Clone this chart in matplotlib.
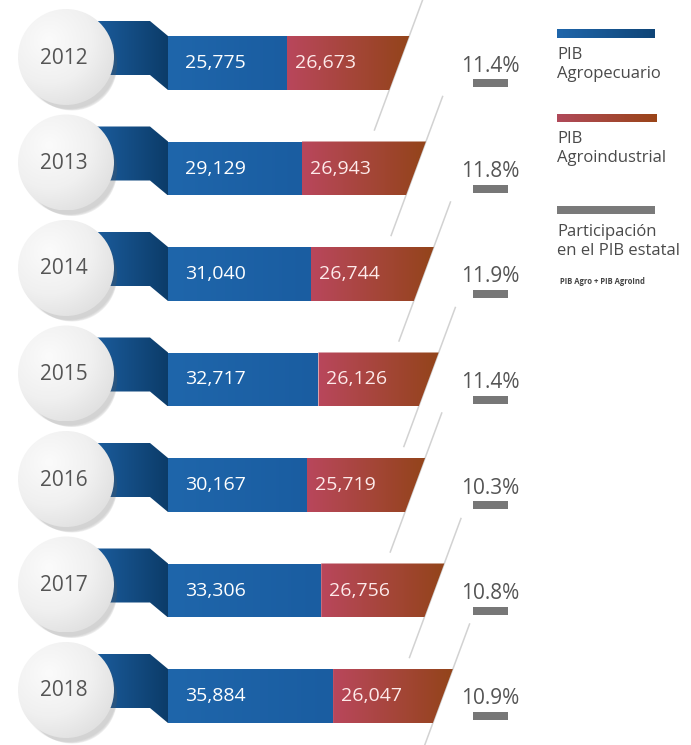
import numpy as np
import matplotlib.pyplot as plt
from matplotlib.patches import Polygon, Circle, Rectangle
from matplotlib.colors import LinearSegmentedColormap

# Datos (millones de pesos)
years = ['2012', '2013', '2014', '2015', '2016', '2017', '2018']
pib_agro = [25775, 29129, 31040, 32717, 30167, 33306, 35884]
pib_agroind = [26673, 26943, 26744, 26126, 25719, 26756, 26047]
participacion = [11.4, 11.8, 11.9, 11.4, 10.3, 10.8, 10.9]

plt.rcParams['font.family'] = ['Open Sans', 'DejaVu Sans']

fig = plt.figure(figsize=(6.91, 7.45), dpi=100)
ax = fig.add_axes([0, 0, 1, 1])


def gradient_poly(verts, c1, c2, zorder, radial=False):
    poly = Polygon(verts, closed=True, facecolor='none', edgecolor='none', zorder=zorder)
    ax.add_patch(poly)
    xs = [v[0] for v in verts]
    ys = [v[1] for v in verts]
    cmap = LinearSegmentedColormap.from_list('g', [c1, c2])
    grad = np.linspace(0, 1, 256).reshape(1, -1)
    im = ax.imshow(grad, cmap=cmap, extent=(min(xs), max(xs), max(ys), min(ys)),
                   aspect='auto', zorder=zorder, interpolation='bilinear')
    im.set_clip_path(poly)


def gradient_circle(cx, cy, r, zorder):
    circ = Circle((cx, cy), r, facecolor='none', edgecolor='none', zorder=zorder)
    ax.add_patch(circ)
    yy, xx = np.mgrid[-1:1:200j, -1:1:200j]
    d = np.sqrt((xx + 0.35) ** 2 + (yy + 0.35) ** 2)
    cmap = LinearSegmentedColormap.from_list('c', ['#fbfbfb', '#f0f0f0', '#d9d9d9'])
    im = ax.imshow(d, cmap=cmap, vmin=0, vmax=1.8, extent=(cx - r, cx + r, cy + r, cy - r),
                   aspect='auto', zorder=zorder, interpolation='bilinear')
    im.set_clip_path(circ)


k = 0.0046  # px por millón
x0 = 168
bar_h = 54
slant = 20

for i, yr in enumerate(years):
    top = 36 + i * 105.5
    bot = top + bar_h
    xb = x0 + k * pib_agro[i]
    xr = xb + k * pib_agroind[i]

    # linea diagonal de fondo
    ya, yb = top - 45, bot + 40
    ax.plot([xr - slant * (ya - top) / bar_h, xr - slant * (yb - top) / bar_h], [ya, yb],
            color='#d2d2d2', lw=1.1, zorder=1)

    # cinta doblada
    gradient_poly([(95, top - 15), (150, top - 15), (x0, top), (x0, bot),
                   (150, bot - 15), (95, bot - 15)], '#1b5c9c', '#0c3c69', 2)
    # barra azul
    gradient_poly([(x0, top), (xb, top), (xb, bot), (x0, bot)], '#1f66ab', '#1a5da1', 3)
    # barra roja
    gradient_poly([(xb, top), (xr, top), (xr - slant, bot), (xb, bot)], '#b9475c', '#93441a', 3)

    ax.text(185, top + 27, f'{pib_agro[i]:,}', color='white', fontsize=14,
            ha='left', va='center', zorder=6)
    ax.text(xb + 8, top + 27, f'{pib_agroind[i]:,}', color='#fdeaea', fontsize=14,
            ha='left', va='center', zorder=6)

    # circulo del año con sombra
    cx, cy, r = 66, top + 21, 48
    for j, a in enumerate([0.05, 0.06, 0.08, 0.10]):
        ax.add_patch(Circle((cx + 3 + j, cy + 4 + j * 1.5), r - j, facecolor='#606060',
                            edgecolor='none', alpha=a, zorder=4))
    gradient_circle(cx, cy, r, 5)
    ax.text(cx - 2, cy + 1, yr, color='#555555', fontsize=15, ha='center', va='center', zorder=6)

    # participación
    ax.text(490, top + 30, f'{participacion[i]:.1f}%', color='#555555', fontsize=15,
            ha='center', va='center', zorder=6)
    ax.add_patch(Rectangle((473, top + 43), 35, 8, facecolor='#777777', edgecolor='none', zorder=6))

# leyenda
gradient_poly([(557, 29), (655, 29), (655, 38), (557, 38)], '#1f66ab', '#0f4577', 6)
ax.text(557, 47, 'PIB\nAgropecuario', color='#4a4a4a', fontsize=12, ha='left', va='top',
        linespacing=1.25, zorder=6)
gradient_poly([(557, 114), (657, 114), (657, 122), (557, 122)], '#b04a5a', '#9a4418', 6)
ax.text(557, 131, 'PIB\nAgroindustrial', color='#4a4a4a', fontsize=12, ha='left', va='top',
        linespacing=1.25, zorder=6)
ax.add_patch(Rectangle((557, 206), 98, 8, facecolor='#7a7a7a', edgecolor='none', zorder=6))
ax.text(557, 224, 'Participación\nen el PIB estatal', color='#4a4a4a', fontsize=12, ha='left',
        va='top', linespacing=1.25, zorder=6)
ax.text(560, 281, 'PIB Agro + PIB AgroInd', color='#444444', fontsize=5.5, fontweight='bold',
        ha='left', va='center', zorder=6)

ax.set_xlim(0, 691)
ax.set_ylim(745, 0)
ax.axis('off')
fig.savefig('out.png', dpi=100, facecolor='white')
